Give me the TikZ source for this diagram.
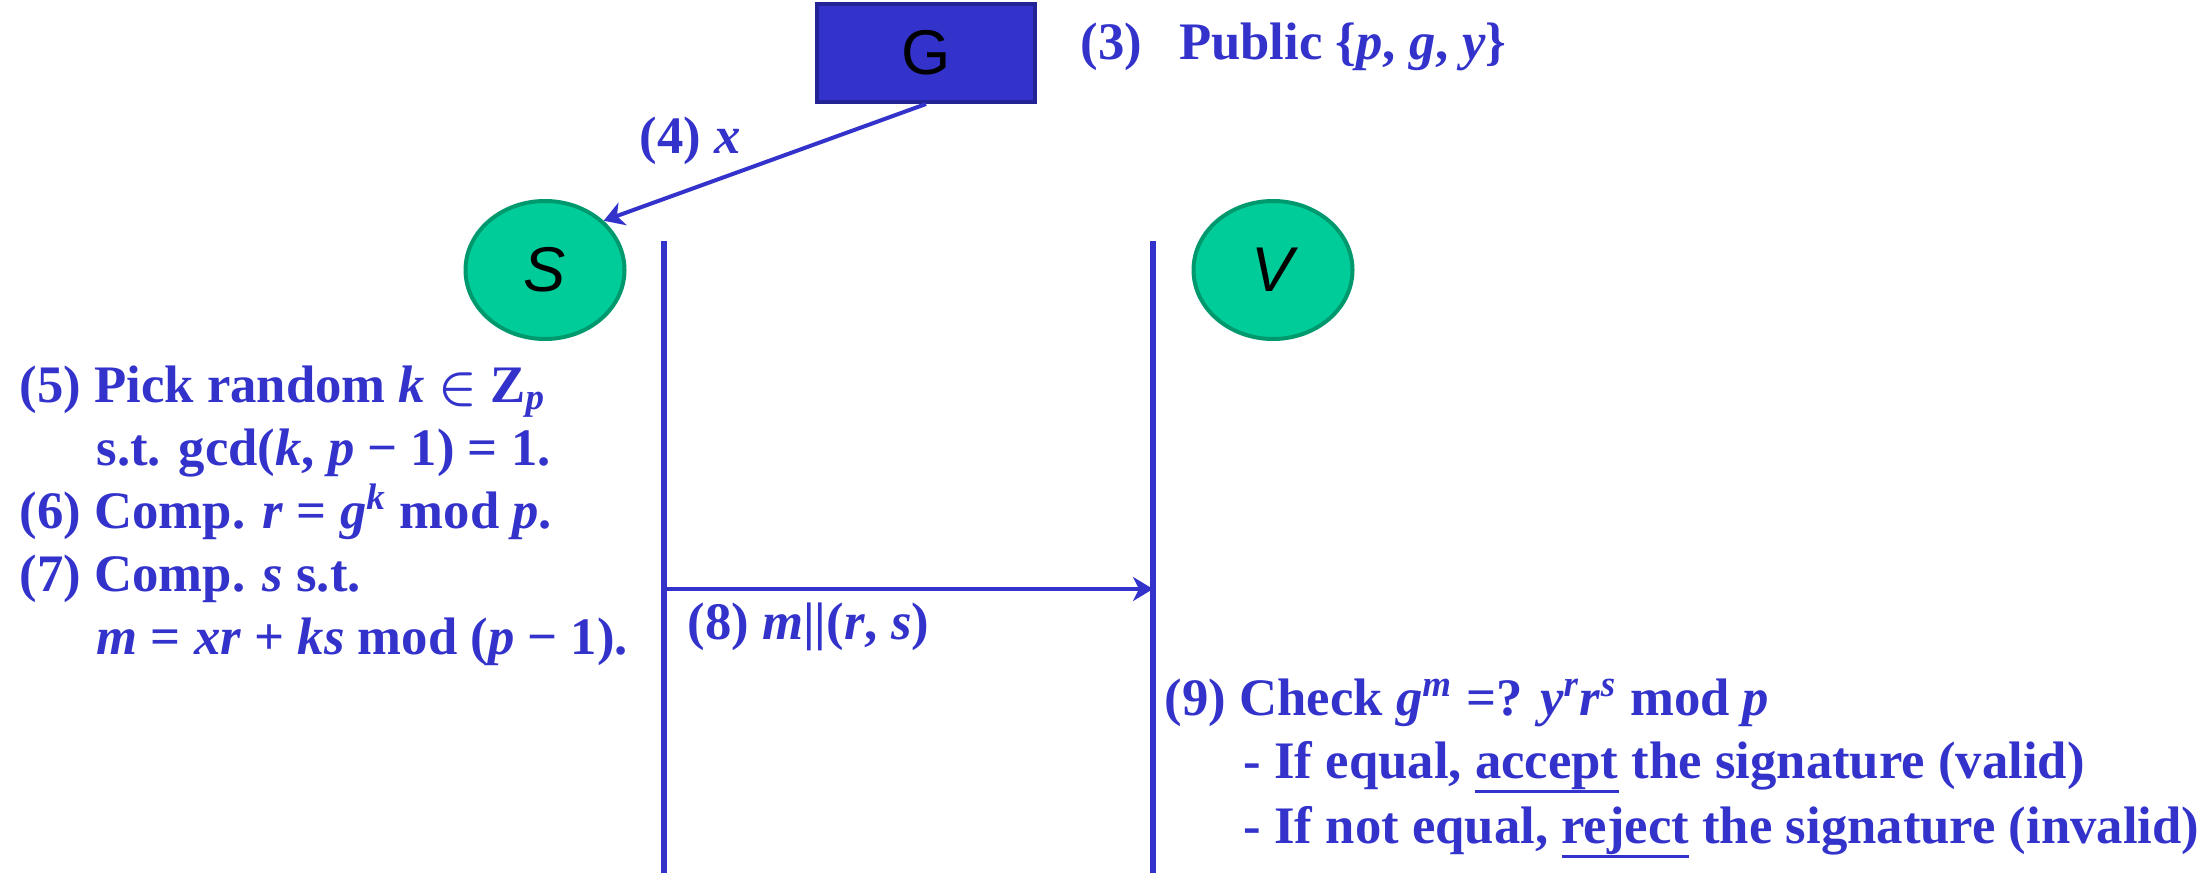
\documentclass[tikz,border=0pt]{standalone}
\usepackage{fontspec}
\setmainfont{Liberation Serif}
\newfontfamily\arialfont{Liberation Sans}
\usetikzlibrary{
  arrows.meta,
  positioning,
  shapes.geometric
}
\definecolor{sgBlue}{HTML}{3333CC}
\definecolor{sgNavy}{HTML}{232396}
\definecolor{sgTeal}{HTML}{00CC99}
\definecolor{sgTealDark}{HTML}{00996E}
\tikzset{
  keygen/.style={
    draw=sgNavy, fill=sgBlue, line width=0.4mm, minimum width=21.8mm,
    minimum height=9.8mm, inner sep=0pt, font=\arialfont\fontsize{18}{20}\selectfont
  },
  party/.style={
    ellipse, draw=sgTealDark, fill=sgTeal, line width=0.4mm, minimum width=15.9mm,
    minimum height=13.8mm, inner sep=0pt, font=\arialfont\itshape\fontsize{18}{20}\selectfont
  },
  lifeline/.style={line width=0.6mm, sgBlue},
  msg/.style={-{Stealth[length=2mm, width=2.4mm, inset=0.6mm]}, line width=0.4mm, sgBlue},
  stepline/.style={
    anchor=base west, inner sep=0pt, text=sgBlue,
    font=\bfseries\boldmath\fontsize{15}{18}\selectfont
  }
}
\newcommand{\va}[1]{\textit{#1}}
\newcommand{\sps}[1]{\textsuperscript{\textit{#1}}}
\newcommand{\ulword}[1]{\leavevmode\setbox0\hbox{#1}\rlap{\rule[-4.4pt]{\wd0}{1pt}}\box0\relax}

\begin{document}
\begin{tikzpicture}[x=0.1mm, y=0.1mm]
  \useasboundingbox (0,0) rectangle (2212,873);
  % generator and the two parties
  \node[keygen] (gen) at (926,820) {G};
  \node[party] (sgn) at (545,603) {S};
  \node[party] (ver) at (1273,603) {V};
  % lifelines
  \coordinate (sgnTop) at (664,632);
  \coordinate (sgnBot) at (664,0);
  \coordinate (verTop) at (1153,632);
  \coordinate (verBot) at (1153,0);
  \draw[lifeline] (sgnTop) -- (sgnBot);
  \draw[lifeline] (verTop) -- (verBot);
  % key hand-over
  \draw[msg] (gen.south) -- (sgn.40);
  \node[stepline] (pub) at (1080,813) {(3)\hspace{0.7em}Public \{\va{p}, \va{g}, \va{y}\}};
  \node[stepline] (xlbl) at (639,720) {(4) \va{x}};
  % signer side
  \node[stepline] (s5a) at (19,471) {(5) Pick random \va{k} $\in$ Z\textsubscript{\va{p}}};
  \node[stepline] (s5b) at (96,408) {s.t. gcd(\va{k}, \va{p} − 1) = 1.};
  \node[stepline] (s6) at (19,345) {(6) Comp. \va{r} = \va{g}\sps{k} mod \va{p}.};
  \node[stepline] (s7a) at (19,282) {(7) Comp. \va{s} s.t.};
  \node[stepline] (s7b) at (96,219) {\va{m} = \va{xr} + \va{ks} mod (\va{p} − 1).};
  % signature message
  \coordinate (msgS) at (664,284);
  \coordinate (msgV) at (1153,284);
  \draw[msg] (msgS) -- (msgV);
  \node[stepline] (m8) at (687,234) {(8) \va{m}||(\va{r}, \va{s})};
  % verifier side
  \node[stepline] (v9a) at (1164,158) {(9) Check \va{g}\sps{m} =? \va{y}\sps{r}\va{r}\sps{s} mod \va{p}};
  \node[stepline] (v9b) at (1243,95) {- If equal, \ulword{accept} the signature (valid)};
  \node[stepline] (v9c) at (1243,30) {- If not equal, \ulword{reject} the signature (invalid)};
\end{tikzpicture}
\end{document}
